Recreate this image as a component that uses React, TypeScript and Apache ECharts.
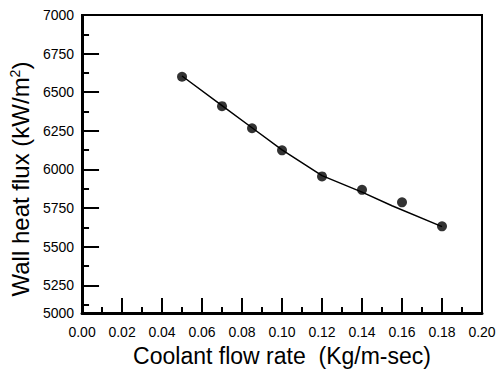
import React, { useEffect, useRef } from 'react';
import * as echarts from 'echarts';

const measuredFlowRate = [0.05, 0.07, 0.085, 0.1, 0.12, 0.14, 0.16, 0.18];
const measuredHeatFlux = [6600, 6410, 6267, 6124, 5955, 5868, 5787, 5632];
const fitFlowRate = [0.05, 0.07, 0.085, 0.1, 0.12, 0.14, 0.155, 0.18];
const fitHeatFlux = [6605, 6413, 6270, 6127, 5960, 5853, 5765, 5630];
const yMajorTicks = [5000, 5250, 5500, 5750, 6000, 6250, 6500, 6750, 7000];
const yMinorTicks = [5125, 5375, 5625, 5875, 6125, 6375, 6625, 6875];

const FONT = '"Liberation Sans", Arial, sans-serif';

export default function App() {
  const ref = useRef<HTMLDivElement>(null);
  useEffect(() => {
    if (!ref.current) return;
    const chart = echarts.init(ref.current, undefined, { renderer: 'svg' });
    const yBreaks = [{ start: 5000, end: 5070, gap: 0 }];
    chart.setOption({
      animation: false,
      backgroundColor: '#ffffff',
      grid: {
        left: 80,
        right: 19,
        top: 15,
        bottom: 54,
        show: true,
        borderColor: '#000',
        borderWidth: 2,
        backgroundColor: 'transparent',
      },
      xAxis: {
        type: 'value',
        min: 0,
        max: 0.2,
        interval: 0.02,
        name: 'Coolant flow rate  (Kg/m-sec)',
        nameLocation: 'middle',
        nameGap: 28,
        nameTextStyle: { fontFamily: FONT, fontSize: 23, color: '#000' },
        axisLine: { show: true, onZero: false, lineStyle: { color: '#000', width: 3 } },
        axisTick: { show: true, inside: true, length: 15, lineStyle: { color: '#000', width: 2 } },
        minorTick: { show: true, splitNumber: 2, length: 6, lineStyle: { color: '#000', width: 2 } },
        splitLine: { show: false },
        axisLabel: {
          fontFamily: FONT,
          fontSize: 14,
          color: '#000',
          margin: 12,
          formatter: (v: number) => v.toFixed(2),
        },
      },
      yAxis: [
        {
          type: 'value',
          min: 5000,
          max: 7000,
          interval: 250,
          breaks: yBreaks,
          breakArea: { show: false },
          name: 'Wall heat flux (kW/m{sup|2})',
          nameLocation: 'middle',
          nameGap: 44,
          nameTextStyle: {
            fontFamily: FONT,
            fontSize: 24,
            color: '#000',
            padding: [0, 30, 0, 0],
            rich: { sup: { fontFamily: FONT, fontSize: 14, verticalAlign: 'top', padding: [0, 0, 10, 0] } },
          },
          axisLine: { show: true, onZero: false, lineStyle: { color: '#000', width: 3 } },
          axisTick: {
            show: true,
            inside: true,
            length: 17,
            customValues: yMajorTicks,
            lineStyle: { color: '#000', width: 2 },
          },
          minorTick: { show: false },
          splitLine: { show: false },
          axisLabel: {
            fontFamily: FONT,
            fontSize: 14,
            color: '#000',
            margin: 8,
            customValues: yMajorTicks,
            formatter: (v: number) => String(Math.round(v)),
          },
        },
        {
          type: 'value',
          position: 'left',
          min: 5000,
          max: 7000,
          interval: 250,
          breaks: yBreaks,
          breakArea: { show: false },
          axisLine: { show: false },
          axisTick: {
            show: true,
            inside: true,
            length: 7,
            customValues: yMinorTicks,
            lineStyle: { color: '#000', width: 2 },
          },
          axisLabel: { show: false },
          splitLine: { show: false },
        },
      ],
      series: [
        {
          type: 'line',
          data: fitFlowRate.map((x, i) => [x, fitHeatFlux[i]]),
          showSymbol: false,
          symbol: 'none',
          lineStyle: { color: '#000', width: 1.5 },
          z: 2,
        },
        {
          type: 'scatter',
          data: measuredFlowRate.map((x, i) => [x, measuredHeatFlux[i]]),
          symbol: 'circle',
          symbolSize: 10,
          itemStyle: { color: '#000' },
          z: 3,
        },
      ],
    });
    return () => chart.dispose();
  }, []);
  return (
    <div
      ref={ref}
      style={{ position: 'fixed', left: 0, top: 0, width: 501, height: 372, background: '#fff' }}
    />
  );
}
